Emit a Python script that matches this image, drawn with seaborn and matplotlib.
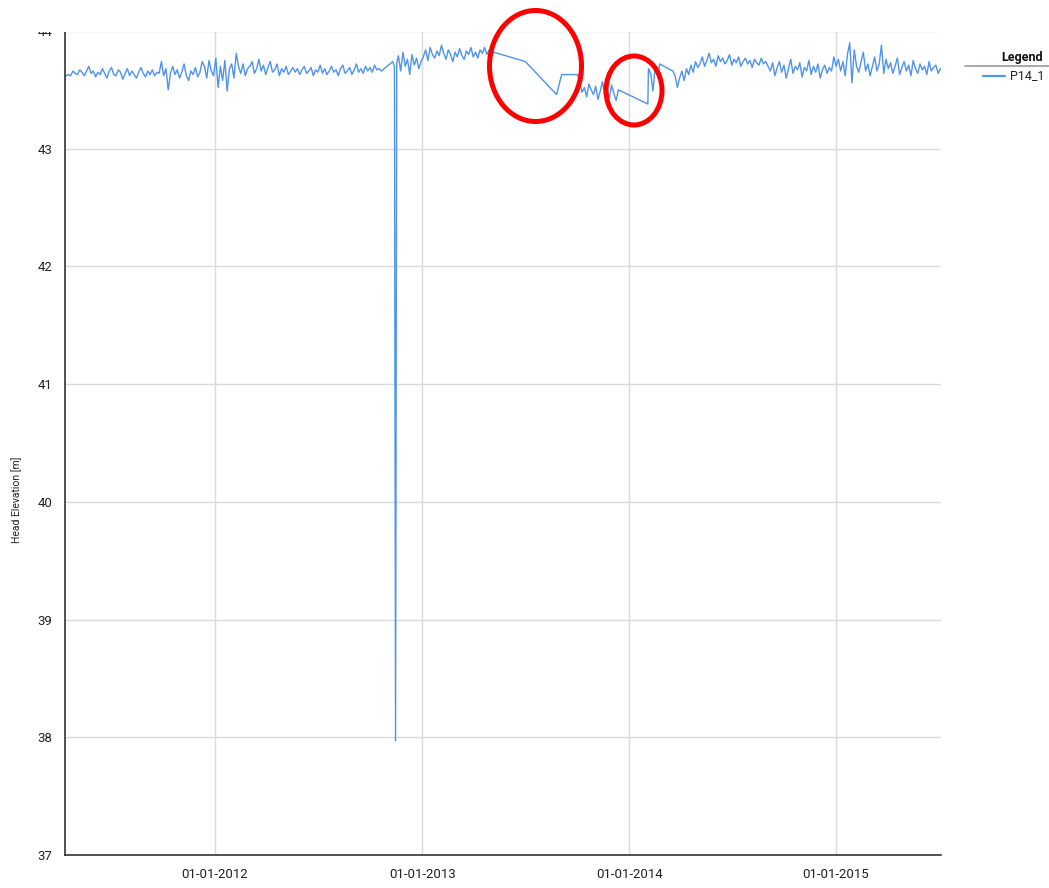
import pandas as pd
import matplotlib.pyplot as plt
import matplotlib.dates as mdates
from matplotlib.patches import Ellipse, Rectangle
from matplotlib.lines import Line2D
import seaborn as sns

# --- data: head readings for well P14_1 (4-day samples) ---
seg_a_start = "2011-04-10"
seg_a_vals = [43.61, 43.62, 43.63, 43.62, 43.66, 43.64, 43.63, 43.67, 43.65, 43.62, 43.66, 43.70, 43.64,
              43.66, 43.61, 43.65, 43.63, 43.68, 43.64, 43.60, 43.66, 43.69, 43.63, 43.62, 43.67, 43.65,
              43.59, 43.64, 43.68, 43.62, 43.66, 43.63, 43.60, 43.65, 43.69, 43.64, 43.61, 43.66, 43.63,
              43.67, 43.62, 43.65, 43.64,
              43.74, 43.62, 43.68, 43.50, 43.64, 43.70,
              43.63, 43.67, 43.60, 43.65, 43.72, 43.62, 43.58, 43.66, 43.63, 43.69, 43.61, 43.65, 43.74,
              43.70, 43.60, 43.75, 43.66, 43.62,
              43.77, 43.52, 43.70, 43.58, 43.75, 43.49, 43.68, 43.72, 43.60,
              43.81, 43.70, 43.64, 43.72, 43.62, 43.68,
              43.70, 43.74, 43.64, 43.68, 43.76, 43.66, 43.71, 43.63, 43.69, 43.74, 43.65, 43.67, 43.72,
              43.62, 43.68, 43.65, 43.70, 43.63, 43.66, 43.69,
              43.65, 43.68, 43.63, 43.67, 43.70, 43.64, 43.66, 43.69, 43.62, 43.67, 43.65, 43.71, 43.64,
              43.68, 43.63, 43.66, 43.70, 43.65, 43.67, 43.62, 43.68, 43.71, 43.64, 43.66, 43.69, 43.63,
              43.67, 43.72, 43.65, 43.68, 43.64, 43.70, 43.66, 43.69, 43.65, 43.71, 43.67, 43.68, 43.66]

# sensor drop-out spike
spike_dates = ["2012-11-10", "2012-11-13", "2012-11-15", "2012-11-17"]
spike_vals = [43.74, 43.70, 37.97, 43.72]

seg_b_start = "2012-11-20"
seg_b_vals = [43.79, 43.66, 43.82, 43.70, 43.76, 43.63, 43.80, 43.71, 43.77, 43.68,
              43.74, 43.78, 43.84, 43.75, 43.86, 43.80, 43.77, 43.83, 43.79, 43.88, 43.81, 43.76, 43.84,
              43.80, 43.74, 43.82, 43.78, 43.85, 43.79, 43.76, 43.83, 43.80, 43.86, 43.78, 43.82, 43.77,
              43.84, 43.81, 43.86, 43.80, 43.84, 43.79, 43.82]

gap1_dates = ["2013-07-02", "2013-08-26", "2013-09-04", "2013-10-02"]
gap1_vals = [43.74, 43.46, 43.63, 43.63]

seg_c_start = "2013-10-06"
seg_c_vals = [43.56, 43.48, 43.52, 43.44, 43.55, 43.50, 43.46, 43.53, 43.42, 43.49, 43.57, 43.45,
              43.51, 43.43, 43.54, 43.47, 43.41, 43.50]

gap2_dates = ["2014-02-03"]
gap2_vals = [43.38]

seg_d_start = "2014-02-04"
seg_d_vals = [43.68, 43.64, 43.49, 43.70, 43.62, 43.72]

seg_e_start = "2014-03-19"
seg_e_vals = [43.66, 43.62, 43.52, 43.60, 43.66, 43.58, 43.68, 43.63, 43.71, 43.65, 43.74, 43.69,
              43.72, 43.78, 43.70, 43.75, 43.81, 43.73, 43.76, 43.70, 43.79, 43.74, 43.77, 43.72,
              43.75, 43.80, 43.71, 43.76, 43.73, 43.78, 43.70, 43.74, 43.77, 43.72, 43.75, 43.69,
              43.76, 43.73, 43.71, 43.77, 43.72, 43.74,
              43.70, 43.66, 43.73, 43.62, 43.69, 43.74, 43.65, 43.71, 43.60, 43.68, 43.76, 43.64,
              43.70, 43.67, 43.73, 43.61, 43.69, 43.66, 43.75, 43.63, 43.70, 43.65, 43.72, 43.60,
              43.67, 43.71, 43.64, 43.69, 43.66,
              43.78, 43.70, 43.76, 43.66, 43.74, 43.62, 43.80, 43.90, 43.56, 43.84, 43.70,
              43.65, 43.74, 43.82, 43.66, 43.72, 43.62, 43.70, 43.78, 43.66, 43.72, 43.88, 43.64,
              43.76, 43.68, 43.73, 43.64, 43.70, 43.77, 43.63, 43.69, 43.74, 43.66, 43.71, 43.62,
              43.75, 43.68, 43.64, 43.72, 43.67, 43.70, 43.63, 43.74, 43.66, 43.69, 43.71, 43.64,
              43.68]

year_ticks = ["2012-01-01", "2013-01-01", "2014-01-01", "2015-01-01"]
y_ticks = [37, 38, 39, 40, 41, 42, 43, 44]
line_color = "#4f93ec"


def seg(start, vals):
    return pd.DataFrame({"date": pd.date_range(start, periods=len(vals), freq="4D"), "head": vals})


def pts(dates, vals):
    return pd.DataFrame({"date": pd.to_datetime(dates), "head": vals})


df = pd.concat([seg(seg_a_start, seg_a_vals), pts(spike_dates, spike_vals), seg(seg_b_start, seg_b_vals),
                pts(gap1_dates, gap1_vals), seg(seg_c_start, seg_c_vals), pts(gap2_dates, gap2_vals),
                seg(seg_d_start, seg_d_vals), seg(seg_e_start, seg_e_vals)], ignore_index=True)

sns.set_style("white")
plt.rcParams["font.family"] = ["Roboto", "DejaVu Sans"]

W, H = 1049, 888
fig = plt.figure(figsize=(W / 100, H / 100), dpi=100)
ax = fig.add_axes([65 / W, 1 - 855 / H, (941 - 65) / W, (855 - 31) / H])

sns.lineplot(data=df, x="date", y="head", ax=ax, color=line_color, linewidth=1.0, sort=False)

ax.set_xlim(pd.Timestamp("2011-04-12"), pd.Timestamp("2015-07-05"))
ax.set_ylim(37, 44)
ax.set_xticks(pd.to_datetime(year_ticks))
ax.xaxis.set_major_formatter(mdates.DateFormatter("%d-%m-%Y"))
ax.set_yticks(y_ticks)
ax.grid(True, color="#dadada", linewidth=1)
ax.set_axisbelow(True)
for s in ["top", "right"]:
    ax.spines[s].set_visible(False)
for s in ["left", "bottom"]:
    ax.spines[s].set_color("#333333")
    ax.spines[s].set_linewidth(1.2)
ax.tick_params(axis="both", direction="out", length=6, width=1, color="#333333",
               labelsize=9.5, labelcolor="#222222", pad=3)
ax.set_xlabel("")
ax.set_ylabel("Head Elevation [m]", fontsize=7.5, color="#222222")
ax.yaxis.set_label_coords(-(65 - 22) / 876, (855 - 500) / 824)

# legend block to the right of the plot
fig.text(1043 / W, 1 - 58 / H, "Legend", ha="right", va="center", fontsize=9,
         fontweight="bold", color="#111111")
fig.add_artist(Line2D([965 / W, 1.0], [1 - 66 / H, 1 - 66 / H], transform=fig.transFigure,
                      color="#9a9a9a", linewidth=1.2))
fig.add_artist(Line2D([983 / W, 1005 / W], [1 - 76 / H, 1 - 76 / H], transform=fig.transFigure,
                      color=line_color, linewidth=1.6))
fig.text(1010 / W, 1 - 76 / H, "P14_1", ha="left", va="center", fontsize=9, color="#222222")

# chart image is cropped at the top
fig.add_artist(Rectangle((0, 1 - 32.5 / H), 1, 32.5 / H, transform=fig.transFigure,
                         facecolor="white", edgecolor="none", zorder=5))

# red circles marking the data gaps
for cx, cy, w, h in [(535.5, 66, 92, 111), (634, 90.5, 56, 69)]:
    fig.add_artist(Ellipse((cx / W, 1 - cy / H), w / W, h / H, transform=fig.transFigure,
                           fill=False, edgecolor="#ff0000", linewidth=3.6, zorder=6))

fig.savefig("out.png", dpi=100)
